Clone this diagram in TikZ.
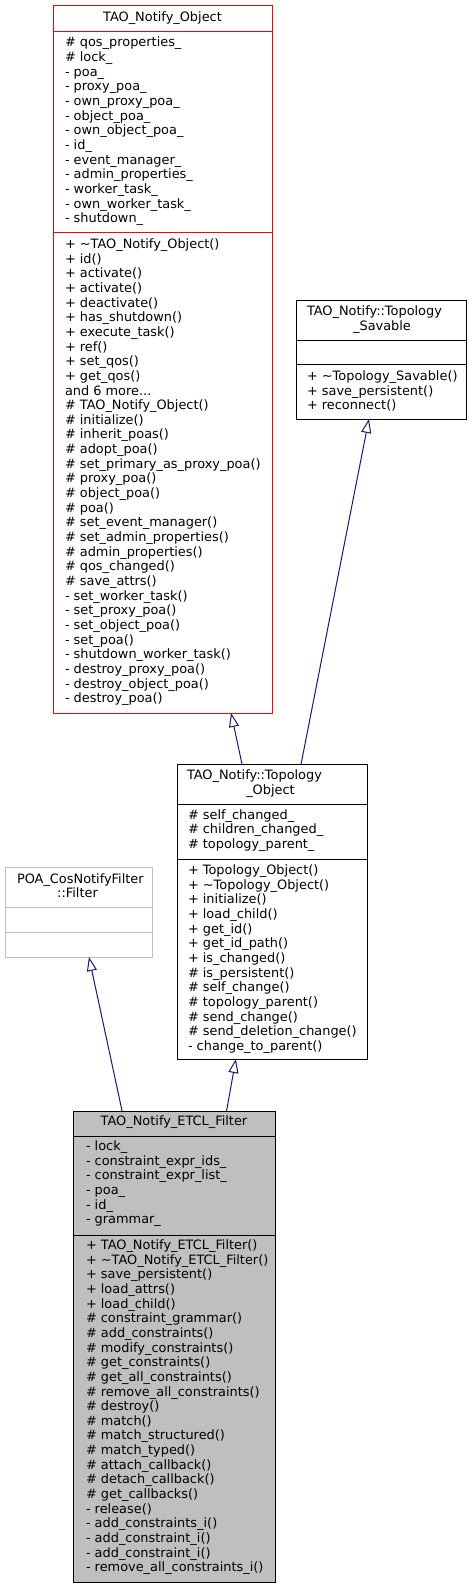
\documentclass[tikz,border=0pt]{standalone}
\usepackage{fontspec}
\newfontfamily\dvs{DejaVu Sans}
\usetikzlibrary{arrows.meta,calc}
\definecolor{grey75}{RGB}{191,191,191}
\definecolor{midnightblue}{RGB}{25,25,112}
\begin{document}
\begin{tikzpicture}[x=1pt,y=-1pt,
  umlbox/.style={draw=black, line width=1pt, fill=white, inner sep=0pt, outer sep=0pt, anchor=north west},
  sepline/.style={line width=1pt},
  txt/.style={font=\dvs\fontsize{12.9}{14.65}\selectfont, inner sep=0pt, outer sep=0pt, align=left, anchor=north west},
  ttl/.style={font=\dvs\fontsize{12.9}{14.65}\selectfont, inner sep=0pt, outer sep=0pt},
  inherit/.style={draw=midnightblue, line width=1pt, -{Triangle[open,length=14pt,width=10pt]}},
]
\fill[white] (0,0) rectangle (472,1589);
\useasboundingbox (0,0) rectangle (472,1589);

% ---------- TAO_Notify_Object ----------
\node[umlbox, draw=red, minimum width=219pt, minimum height=707pt] (obj) at (53,6) {};
\draw[sepline, red] (53,32) -- (272,32);
\draw[sepline, red] (53,233) -- (272,233);
\node[ttl, anchor=base] (objT) at (162.5,21.5) {TAO\_Notify\_Object};
\node[txt] (objA) at (65,36.745) {\strut\# qos\_properties\_\\
\# lock\_\\
- poa\_\\
- proxy\_poa\_\\
- own\_proxy\_poa\_\\
- object\_poa\_\\
- own\_object\_poa\_\\
- id\_\\
- event\_manager\_\\
- admin\_properties\_\\
- worker\_task\_\\
- own\_worker\_task\_\\
- shutdown\_};
\node[txt] (objM) at (65,238.245) {\strut+ \textasciitilde TAO\_Notify\_Object()\\
+ id()\\
+ activate()\\
+ activate()\\
+ deactivate()\\
+ has\_shutdown()\\
+ execute\_task()\\
+ ref()\\
+ set\_qos()\\
+ get\_qos()\\
and 6 more...\\
\# TAO\_Notify\_Object()\\
\# initialize()\\
\# inherit\_poas()\\
\# adopt\_poa()\\
\# set\_primary\_as\_proxy\_poa()\\
\# proxy\_poa()\\
\# object\_poa()\\
\# poa()\\
\# set\_event\_manager()\\
\# set\_admin\_properties()\\
\# admin\_properties()\\
\# qos\_changed()\\
\# save\_attrs()\\
- set\_worker\_task()\\
- set\_proxy\_poa()\\
- set\_object\_poa()\\
- set\_poa()\\
- shutdown\_worker\_task()\\
- destroy\_proxy\_poa()\\
- destroy\_object\_poa()\\
- destroy\_poa()};

% ---------- TAO_Notify::Topology_Savable ----------
\node[umlbox, minimum width=170pt, minimum height=119pt] (sav) at (296,300) {};
\draw[sepline] (296,340) -- (466,340);
\draw[sepline] (296,364) -- (466,364);
\node[ttl, anchor=base west] (savT1) at (307,315.5) {TAO\_Notify::Topology};
\node[ttl, anchor=base] (savT2) at (382,330) {\_Savable};
\node[txt] (savM) at (307,370.245) {\strut+ \textasciitilde Topology\_Savable()\\
+ save\_persistent()\\
+ reconnect()};

% ---------- TAO_Notify::Topology_Object ----------
\node[umlbox, minimum width=190pt, minimum height=295pt] (topo) at (177,764) {};
\draw[sepline] (177,804) -- (367,804);
\draw[sepline] (177,859) -- (367,859);
\node[ttl, anchor=base west] (topoT1) at (187,779.5) {TAO\_Notify::Topology};
\node[ttl, anchor=base] (topoT2) at (270.5,794) {\_Object};
\node[txt] (topoA) at (188,808.945) {\strut\# self\_changed\_\\
\# children\_changed\_\\
\# topology\_parent\_};
\node[txt] (topoM) at (188,864.245) {\strut+ Topology\_Object()\\
+ \textasciitilde Topology\_Object()\\
+ initialize()\\
+ load\_child()\\
+ get\_id()\\
+ get\_id\_path()\\
+ is\_changed()\\
\# is\_persistent()\\
\# self\_change()\\
\# topology\_parent()\\
\# send\_change()\\
\# send\_deletion\_change()\\
- change\_to\_parent()};

% ---------- POA_CosNotifyFilter::Filter ----------
\node[umlbox, draw=grey75, minimum width=147pt, minimum height=90pt] (filt) at (5,867) {};
\draw[sepline, grey75] (5,907) -- (152,907);
\draw[sepline, grey75] (5,932) -- (152,932);
\node[ttl, anchor=base west] (filtT1) at (17,883) {POA\_CosNotifyFilter};
\node[ttl, anchor=base] (filtT2) at (77.5,897.6) {::Filter};

% ---------- TAO_Notify_ETCL_Filter ----------
\node[umlbox, fill=grey75, minimum width=202pt, minimum height=471pt] (etcl) at (73,1111) {};
\draw[sepline] (73,1136) -- (275,1136);
\draw[sepline] (73,1235) -- (275,1235);
\node[ttl, anchor=base] (etclT) at (174,1125.5) {TAO\_Notify\_ETCL\_Filter};
\node[txt] (etclA) at (86,1140.245) {\strut- lock\_\\
- constraint\_expr\_ids\_\\
- constraint\_expr\_list\_\\
- poa\_\\
- id\_\\
- grammar\_};
\node[txt] (etclM) at (86,1239.245) {\strut+ TAO\_Notify\_ETCL\_Filter()\\
+ \textasciitilde TAO\_Notify\_ETCL\_Filter()\\
+ save\_persistent()\\
+ load\_attrs()\\
+ load\_child()\\
\# constraint\_grammar()\\
\# add\_constraints()\\
\# modify\_constraints()\\
\# get\_constraints()\\
\# get\_all\_constraints()\\
\# remove\_all\_constraints()\\
\# destroy()\\
\# match()\\
\# match\_structured()\\
\# match\_typed()\\
\# attach\_callback()\\
\# detach\_callback()\\
\# get\_callbacks()\\
- release()\\
- add\_constraints\_i()\\
- add\_constraint\_i()\\
- add\_constraint\_i()\\
- remove\_all\_constraints\_i()};

% ---------- inheritance connectors ----------
\draw[inherit] ($(topo.north west)!0.342!(topo.north east)$) -- ($(obj.south west)!0.813!(obj.south east)$);
\draw[inherit] ($(topo.north west)!0.653!(topo.north east)$) -- ($(sav.south west)!0.429!(sav.south east)$);
\draw[inherit] ($(etcl.north west)!0.243!(etcl.north east)$) -- ($(filt.south west)!0.571!(filt.south east)$);
\draw[inherit] ($(etcl.north west)!0.76!(etcl.north east)$) -- ($(topo.south west)!0.31!(topo.south east)$);
\end{tikzpicture}
\end{document}
